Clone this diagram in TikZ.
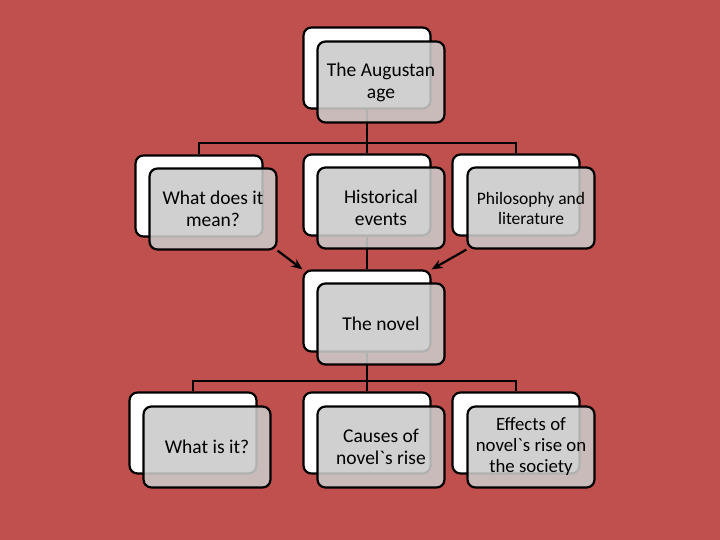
\documentclass[tikz,border=0pt]{standalone}
\usepackage{fontspec}
\setmainfont{Carlito}
\usetikzlibrary{arrows.meta}
\definecolor{slidered}{HTML}{C0504D}
\definecolor{cardgray}{HTML}{CACACA}
\tikzset{
  backcard/.style={draw, line width=2.2pt, rounded corners=8pt, fill=white,
    minimum width=127pt, minimum height=81pt, inner sep=0pt},
  frontcard/.style={backcard, fill=cardgray, fill opacity=0.88, text opacity=1,
    align=center, font=\fontsize{19.5}{22}\selectfont},
  link/.style={line width=2.2pt},
}
\begin{document}
\begin{tikzpicture}[x=1pt,y=-1pt]
    % Fondo
    \fill[slidered] (0,0) rectangle (720,540);

    % Tarjetas de atras
    \node[backcard] (augB) at (367,68) {};
    \node[backcard] (whatB) at (199,196) {};
    \node[backcard] (histB) at (367,195) {};
    \node[backcard] (philB) at (516,195) {};
    \node[backcard] (novelB) at (367,311) {};
    \node[backcard] (whatisB) at (193,433) {};
    \node[backcard] (causesB) at (367,433) {};
    \node[backcard] (effectsB) at (516,433) {};

    % Lineas
    \coordinate (topJ) at (367,143);
    \coordinate (botJ) at (367,381);
    \draw[link] (augB.south) -- (histB.north);
    \draw[link] (whatB.north) |- (topJ) -| (philB.north);
    \draw[link] (histB.south) -- (novelB.north);
    \draw[link] (novelB.south) -- (causesB.north);
    \draw[link] (whatisB.north) |- (botJ) -| (effectsB.north);

    % Tarjetas de adelante
    \node[frontcard] (augF) at (381,82) {The Augustan\\age};
    \node[frontcard] (whatF) at (213,209) {What does it\\mean?};
    \node[frontcard] (histF) at (381,208) {Historical\\events};
    \node[frontcard, font=\fontsize{17.5}{20}\selectfont] (philF) at (531,208) {Philosophy and\\literature};
    \node[frontcard] (novelF) at (381,324) {The novel};
    \node[frontcard] (whatisF) at (207,447) {What is it?};
    \node[frontcard] (causesF) at (381,447) {Causes of\\novel\textasciigrave s rise};
    \node[frontcard, font=\fontsize{18.8}{21}\selectfont] (effectsF) at (531,447) {Effects of\\novel\textasciigrave s rise on\\the society};

    % Flechas
    \draw[link,-{Stealth[length=11pt,width=9pt]}] (whatF.south east) -- (novelB.north west);
    \draw[link,-{Stealth[length=11pt,width=9pt]}] (philF.south west) -- (novelB.north east);
\end{tikzpicture}
\end{document}
